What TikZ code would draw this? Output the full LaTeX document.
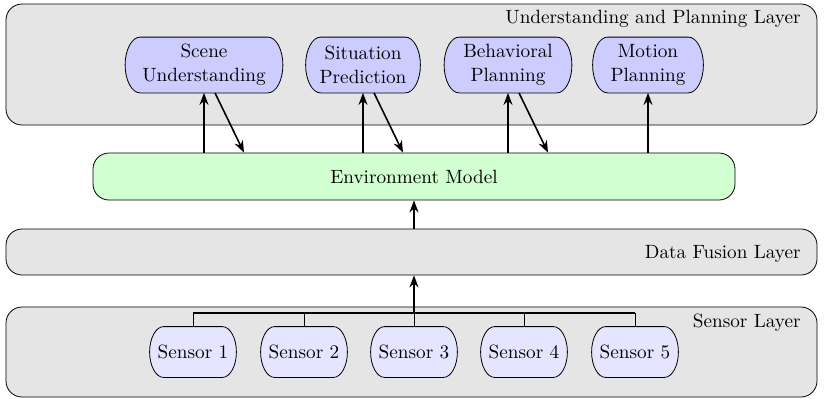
\documentclass[tikz,border=0pt]{standalone}
\usetikzlibrary{arrows.meta}
\pgfdeclarelayer{bottom}
\pgfdeclarelayer{background}
\pgfsetlayers{bottom,background,main}
% outline with half-elliptical ends: #1 node, #2 bulge, #3 bulge*(1-k), #4 k*halfheight, #5 style
\newcommand\mypill[5]{%
  \path[#5] ([xshift=#2]#1.north west) -- ([xshift=-#2]#1.north east)
    .. controls ([xshift=-#3]#1.north east) and ([yshift=#4]#1.east) .. (#1.east)
    .. controls ([yshift=-#4]#1.east) and ([xshift=-#3]#1.south east) .. ([xshift=-#2]#1.south east)
    -- ([xshift=#2]#1.south west)
    .. controls ([xshift=#3]#1.south west) and ([yshift=-#4]#1.west) .. (#1.west)
    .. controls ([yshift=#4]#1.west) and ([xshift=#3]#1.north west) .. cycle;}
\begin{document}
\begin{tikzpicture}[x=0.5pt,y=-0.5pt,
  every node/.style={font=\fontsize{9.6}{12}\selectfont},
  layerbox/.style={draw, fill=gray!20, rounded corners=8pt, minimum width=405.5pt, inner sep=0pt},
  layerlabel/.style={anchor=base east, inner sep=0pt},
  envbox/.style={draw, fill=green!18, rounded corners=8pt, inner sep=0pt},
  task/.style={align=center, minimum height=27.5pt, inner sep=0pt},
  taskshape/.style={draw, fill=blue!20},
  sensor/.style={minimum width=43pt, minimum height=25pt, inner sep=0pt},
  sensorshape/.style={draw, fill=blue!10},
  arr/.style={thick, -{Stealth[length=6pt,width=4.5pt]}},
  bus/.style={thick}
]
\useasboundingbox (0,0) rectangle (824,398);
% layers
\begin{pgfonlayer}{bottom}
\node[layerbox, minimum height=60.5pt] (upl) at (411.5,64.5) {};
\node[layerbox, minimum height=23pt] (fusion) at (411.5,252) {};
\node[layerbox, minimum height=45pt] (sensl) at (411.5,352) {};
\end{pgfonlayer}
\node[layerlabel] (upllabel) at (801,23) {Understanding and Planning Layer};
\node[layerlabel] (fusionlabel) at (801,258) {Data Fusion Layer};
\node[layerlabel] (sensllabel) at (801,327) {Sensor Layer};
% environment model
\node[envbox, minimum width=321pt, minimum height=23.5pt] (env) at (414,176.5) {Environment Model};
% tasks
\node[task, minimum width=78.5pt] (scene) at (204,65) {Scene\\Understanding};
\node[task, minimum width=57pt] (situ) at (363,65) {Situation\\Prediction};
\node[task, minimum width=63.5pt] (behav) at (508,65) {Behavioral\\Planning};
\node[task, minimum width=55pt] (motion) at (648,65) {Motion\\Planning};
% sensors
\node[sensor] (s1) at (193,352) {Sensor 1};
\node[sensor] (s2) at (304,352) {Sensor 2};
\node[sensor] (s3) at (414,352) {Sensor 3};
\node[sensor] (s4) at (524,352) {Sensor 4};
\node[sensor] (s5) at (635,352) {Sensor 5};
\begin{pgfonlayer}{background}
\foreach \t in {scene,situ,behav,motion} {\mypill{\t}{7.5pt}{3.36pt}{7.6pt}{taskshape}}
\foreach \s in {s1,s2,s3,s4,s5} {\mypill{\s}{7pt}{3.13pt}{6.9pt}{sensorshape}}
\end{pgfonlayer}
% bus
\coordinate (busy) at (0,313);
\draw[bus] (s1.north |- busy) -- (s5.north |- busy);
\foreach \s in {s1,s2,s3,s4,s5} \draw (\s.north) -- (\s.north |- busy);
\draw[arr] (s3.north |- busy) -- (s3.north |- fusion.south);
\draw[arr] (fusion.north -| s3) -- (env.south -| s3);
% env <-> tasks
\foreach \t in {scene,situ,behav,motion} \draw[arr] (\t |- env.north) -- (\t.south);
\foreach \t in {scene,situ,behav} \draw[arr] ([xshift=5.5pt]\t.south) -- ([xshift=20pt]\t.south |- env.north);
\end{tikzpicture}
\end{document}
